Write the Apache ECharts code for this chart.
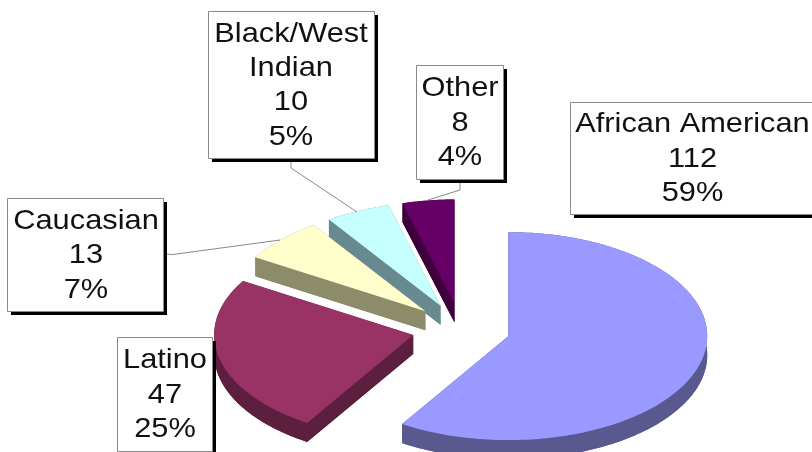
<!DOCTYPE html>
<html><head><meta charset="utf-8">
<style>html,body{margin:0;padding:0;background:#fff}#c{width:812px;height:452px}</style>
<script src="https://cdn.jsdelivr.net/npm/echarts@6/dist/echarts.min.js"></script>
</head><body><div id="c"></div>
<script>
const categories = ['African American','Latino','Caucasian','Black/West Indian','Other'];
const values = [112,47,13,10,8];
const percents = ['59%','25%','7%','5%','4%'];
const labelTexts = ['African American','Latino','Caucasian','Black/West\nIndian','Other'];

const topColors = ['#9999ff','#993366','#ffffcc','#c6ffff','#660066'];
const sideColors = ['#59598f','#5c1f3d','#8c8c6a','#668a90','#3d003d'];

const PIE = {cx:461, cy:329, rx:199, ry:104, explode:0.247, depth:19};
const BOXES = [
  {x:570,y:102,w:260,h:112, cx:692.5},
  {x:117,y:337,w:95,h:114, cx:165},
  {x:7,y:198,w:156,h:113, cx:86},
  {x:208,y:11,w:166,h:147, cx:291},
  {x:416,y:65,w:87,h:114, cx:460}
];
const LEADERS = [null,null,
  [[163,254],[173,254.5],[280,240]],
  [[291,158],[291,168],[357,212]],
  [[460,179],[460,190],[428,200]]
];

const total = values.reduce((a,b)=>a+b,0);
const cum = []; values.reduce((a,v,i)=>(cum[i]=a,a+v),0);

function outline(i){
  const a0 = cum[i]/total*2*Math.PI, a1=(cum[i]+values[i])/total*2*Math.PI;
  const mid=(a0+a1)/2;
  const ox=PIE.cx+PIE.explode*PIE.rx*Math.sin(mid), oy=PIE.cy-PIE.explode*PIE.ry*Math.cos(mid);
  const arc=[];
  const n=Math.max(4,Math.ceil((a1-a0)/0.02));
  for(let k=0;k<=n;k++){
    const a=a0+(a1-a0)*k/n;
    arc.push([ox+PIE.rx*Math.sin(a), oy-PIE.ry*Math.cos(a)]);
  }
  return {o:[ox,oy],arc};
}
const drawOrder=[4,3,2,1,0];
function renderSlice(params,api){
  const i=api.value(0);
  const {o,arc}=outline(i), d=PIE.depth;
  const down=p=>[p[0],p[1]+d];
  const side={fill:sideColors[i]};
  const first=arc[0], last=arc[arc.length-1];
  const top=[o].concat(arc);
  const children=[
    {type:'polygon',shape:{points:top.map(down)},style:side},
    {type:'polygon',shape:{points:arc.concat(arc.slice().reverse().map(down))},style:side},
    {type:'polygon',shape:{points:[o,first,down(first),down(o)]},style:side},
    {type:'polygon',shape:{points:[o,last,down(last),down(o)]},style:side},
    {type:'polygon',shape:{points:top},style:{fill:topColors[i]}}
  ];
  return {type:'group',children};
}

const graphics=[];
const TX=1.1;
BOXES.forEach((b,i)=>{
  graphics.push({type:'rect',shape:{x:b.x+4,y:b.y+4,width:b.w,height:b.h},style:{fill:'#000'},z:10});
  graphics.push({type:'rect',shape:{x:b.x+.5,y:b.y+.5,width:b.w,height:b.h},style:{fill:'#fff',stroke:'#8a8a8a',lineWidth:1},z:11});
  const txt=labelTexts[i]+'\n'+values[i]+'\n'+percents[i];
  graphics.push({type:'text',x:b.cx,y:b.y+b.h/2+1,scaleX:TX,z:12,
    style:{text:txt,fill:'#111',font:'28px "Liberation Sans"',lineHeight:34.3,align:'center',verticalAlign:'middle'}});
  if(LEADERS[i]) graphics.push({type:'polyline',shape:{points:LEADERS[i]},style:{fill:null,stroke:'#8a8a8a',lineWidth:1},z:5});
});

const chart=echarts.init(document.getElementById('c'),null,{renderer:'canvas'});
chart.setOption({
  animation:false,
  backgroundColor:'#fff',
  series:[{type:'custom',coordinateSystem:'none',renderItem:renderSlice,
    data:drawOrder.map(i=>({value:[i,values[i]],name:categories[i]})),silent:true}],
  graphic:{elements:graphics}
});
</script></body></html>
